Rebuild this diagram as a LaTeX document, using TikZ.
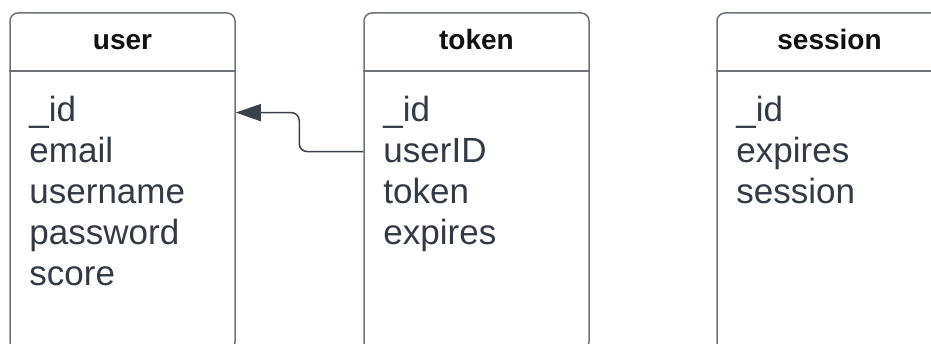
\documentclass[tikz,border=0pt]{standalone}
\usepackage{fontspec}
\setmainfont{Liberation Sans}
\usetikzlibrary{arrows.meta, positioning}

\definecolor{boxline}{HTML}{6E737B}
\definecolor{titletext}{HTML}{111111}
\definecolor{fieldtext}{HTML}{333A44}
\definecolor{linkcolor}{HTML}{3A414B}

\begin{document}
\begin{tikzpicture}[x=1pt, y=-1pt,
  entity/.style={draw=boxline, line width=1.5pt, rounded corners=8pt, minimum width=225pt, minimum height=337pt, inner sep=0pt},
  entityname/.style={anchor=base, inner sep=0pt, font=\fontsize{28}{34}\selectfont\bfseries, text=titletext},
  attr/.style={anchor=base west, inner sep=0pt, font=\fontsize{35}{41}\selectfont, text=fieldtext},
  sep/.style={draw=boxline, line width=1.5pt},
  link/.style={draw=linkcolor, line width=1.5pt, rounded corners=8pt, -{Triangle[length=25pt, width=17pt]}}]
\clip (0,0) rectangle (931,344);

% tables
\node[entity] (user) at (122.5,181.5) {};
\node[entity] (token) at (476.5,181.5) {};
\node[entity] (session) at (829.5,181.5) {};

\draw[sep] ([yshift=-59pt]user.north west) -- ([yshift=-59pt]user.north east);
\draw[sep] ([yshift=-59pt]token.north west) -- ([yshift=-59pt]token.north east);
\draw[sep] ([yshift=-59pt]session.north west) -- ([yshift=-59pt]session.north east);

\node[entityname] (user-name) at ([yshift=-37pt]user.north) {user};
\node[entityname] (token-name) at ([yshift=-37pt]token.north) {token};
\node[entityname] (session-name) at ([yshift=-37pt]session.north) {session};

% user fields
\node[attr] (user-id) at ([xshift=20pt, yshift=-109pt]user.north west) {\_id};
\node[attr] (user-email) at ([yshift=-41pt]user-id.base west) {email};
\node[attr] (user-username) at ([yshift=-41pt]user-email.base west) {username};
\node[attr] (user-password) at ([yshift=-41pt]user-username.base west) {password};
\node[attr] (user-score) at ([yshift=-41pt]user-password.base west) {score};

% token fields
\node[attr] (token-id) at ([xshift=20pt, yshift=-109pt]token.north west) {\_id};
\node[attr] (token-userid) at ([yshift=-41pt]token-id.base west) {userID};
\node[attr] (token-token) at ([yshift=-41pt]token-userid.base west) {token};
\node[attr] (token-expires) at ([yshift=-41pt]token-token.base west) {expires};

% session fields
\node[attr] (session-id) at ([xshift=20pt, yshift=-109pt]session.north west) {\_id};
\node[attr] (session-expires) at ([yshift=-41pt]session-id.base west) {expires};
\node[attr] (session-session) at ([yshift=-41pt]session-expires.base west) {session};

\draw[link] ([yshift=8pt]token.west |- token-userid.mid) -- ++(-64,0) |- ([yshift=6pt]user.east |- user-id.mid);
\end{tikzpicture}
\end{document}
